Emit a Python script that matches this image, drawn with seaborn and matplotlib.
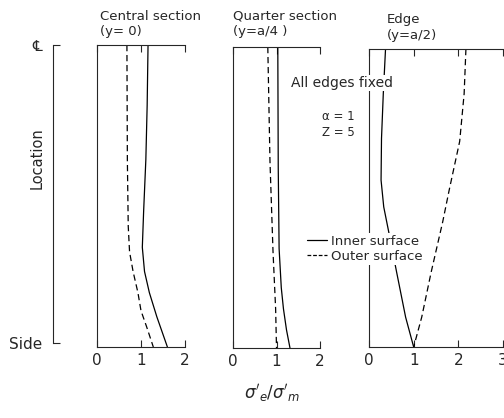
import numpy as np
import pandas as pd
import matplotlib
matplotlib.use("Agg")
import matplotlib.pyplot as plt
import seaborn as sns
from matplotlib.lines import Line2D

# ---------------- data ----------------
panel_titles = ["Central section", "Quarter section", "Edge"]
panel_subtitles = ["(y= 0)", "(y=a/4 )", "(y=a/2)"]
panel_xmax = [2, 2, 3]

central_inner_loc = [1.0, 0.8, 0.62, 0.45, 0.33, 0.25, 0.18, 0.1, 0.05, 0.0]
central_inner = [1.16, 1.14, 1.11, 1.06, 1.03, 1.08, 1.19, 1.36, 1.48, 1.6]
central_outer_loc = [1.0, 0.62, 0.4, 0.315, 0.25, 0.18, 0.12, 0.066, 0.0]
central_outer = [0.68, 0.69, 0.71, 0.74, 0.82, 0.93, 1.0, 1.13, 1.28]

quarter_inner_loc = [1.0, 0.6, 0.33, 0.2, 0.13, 0.06, 0.0]
quarter_inner = [1.03, 1.04, 1.06, 1.11, 1.16, 1.23, 1.31]
quarter_outer_loc = [1.0, 0.62, 0.32, 0.13, 0.0]
quarter_outer = [0.8, 0.85, 0.92, 0.98, 1.0]

edge_inner_loc = [1.0, 0.85, 0.7, 0.56, 0.47, 0.38, 0.25, 0.1, 0.0]
edge_inner = [0.37, 0.32, 0.28, 0.27, 0.33, 0.45, 0.62, 0.82, 1.0]
edge_outer_loc = [1.0, 0.85, 0.69, 0.53, 0.42, 0.25, 0.1, 0.0]
edge_outer = [2.17, 2.13, 2.03, 1.8, 1.65, 1.39, 1.18, 1.0]

surfaces = ["Inner surface", "Outer surface"]

series = [
    [(central_inner_loc, central_inner), (central_outer_loc, central_outer)],
    [(quarter_inner_loc, quarter_inner), (quarter_outer_loc, quarter_outer)],
    [(edge_inner_loc, edge_inner), (edge_outer_loc, edge_outer)],
]

# ---------------- figure ----------------
sns.set_style("ticks")
plt.rcParams["font.family"] = ["DejaVu Sans"]
plt.rcParams["axes.linewidth"] = 0.8

W, H = 504, 418
fig = plt.figure(figsize=(W / 100, H / 100), dpi=100)

def fx(px):
    return px / W

def fy(py):
    return 1 - py / H

# panel boxes in pixel coords: left, right, top, bottom
boxes = [(97, 185, 45, 347), (233, 320, 47, 348), (369, 503, 49, 347)]
dash_map = {"Inner surface": "", "Outer surface": (5, 3)}

for i, (l, r, t, b) in enumerate(boxes):
    ax = fig.add_axes([fx(l), fy(b), (r - l) / W, (b - t) / H])
    rows = []
    for s, (loc, val) in zip(surfaces, series[i]):
        for yv, xv in zip(loc, val):
            rows.append({"surface": s, "loc": yv, "value": xv})
    df = pd.DataFrame(rows)
    sns.lineplot(data=df, x="value", y="loc", style="surface",
                 dashes=dash_map, color="black", linewidth=0.9,
                 estimator=None, sort=False, orient="y", legend=False, ax=ax)
    ax.set_xlim(0, panel_xmax[i])
    ax.set_ylim(0, 1)
    ax.set_xticks(list(range(panel_xmax[i] + 1)))
    ax.set_yticks([])
    ax.tick_params(axis="x", direction="in", top=True, length=5, width=0.8,
                   labelsize=11, pad=4)
    ax.spines["right"].set_visible(False)
    ax.set_xlabel("")
    ax.set_ylabel("")

# titles
title_pos = [(100, 16, 32), (233, 16, 32), (387, 19, 35)]
for (x0, y1, y2), t1, t2 in zip(title_pos, panel_titles, panel_subtitles):
    fig.text(fx(x0), fy(y1), t1, ha="left", va="center", fontsize=9.5)
    fig.text(fx(x0), fy(y2), t2, ha="left", va="center", fontsize=9.5)

# location axis
ax0 = fig.add_axes([fx(53), fy(343), 5 / W, (343 - 45) / H])
ax0.set_xlim(0, 1)
ax0.set_ylim(0, 1)
ax0.set_xticks([])
ax0.set_yticks([0, 1])
ax0.set_yticklabels(["Side", "\u2104"])
for sp in ["top", "right", "bottom"]:
    ax0.spines[sp].set_visible(False)
ax0.tick_params(axis="y", direction="in", length=5, width=0.8, labelsize=11, pad=8)
ax0.patch.set_alpha(0)
fig.text(fx(37), fy(158), "Location", rotation=90, ha="center", va="center", fontsize=10.5)

# annotations
bbox = dict(facecolor="white", edgecolor="none", pad=1)
fig.text(fx(291), fy(83), "All edges fixed", ha="left", va="center", fontsize=10, bbox=bbox)
fig.text(fx(322), fy(116), "\u03b1 = 1", ha="left", va="center", fontsize=8.5)
fig.text(fx(322), fy(133), "Z = 5", ha="left", va="center", fontsize=8.5)

handles = [Line2D([], [], color="black", lw=0.9),
           Line2D([], [], color="black", lw=0.9, dashes=(3, 1.5))]
leg = fig.legend(handles, surfaces, loc="upper left",
                 bbox_to_anchor=(fx(305), fy(233)), fontsize=9.5,
                 handlelength=1.5, handletextpad=0.3, labelspacing=0.15,
                 borderpad=0.15, borderaxespad=0, frameon=True, fancybox=False)
leg.get_frame().set_facecolor("white")
leg.get_frame().set_edgecolor("none")
leg.get_frame().set_alpha(1)

fig.text(fx(272), fy(393), r"$\sigma'_e/\sigma'_m$", ha="center", va="center", fontsize=12)

fig.savefig("out.png", dpi=100)
